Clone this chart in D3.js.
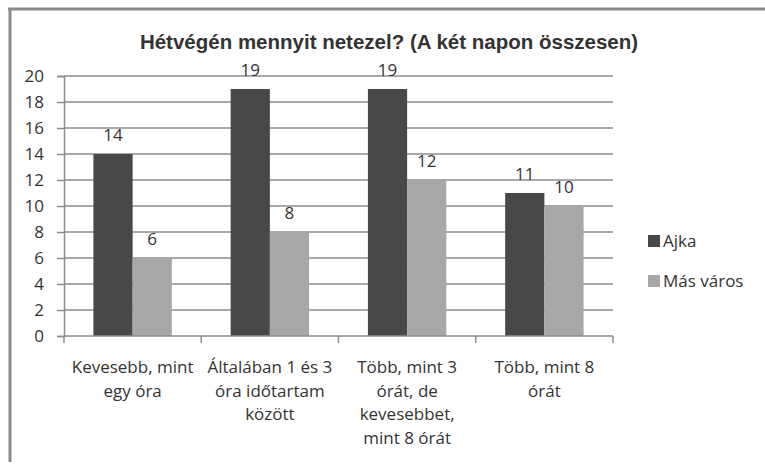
<!DOCTYPE html>
<html>
<head>
<meta charset="utf-8">
<script src="https://cdn.jsdelivr.net/npm/d3@7"></script>
<style>
  body { margin: 0; background: #fff; }
  svg { display: block; }
</style>
</head>
<body>
<svg class="chart"></svg>
<script>
// Chart data
const categories = ['Kevesebb, mint egy óra', 'Általában 1 és 3 óra időtartam között',
  'Több, mint 3 órát, de kevesebbet, mint 8 órát', 'Több, mint 8 órát'];
const categoryLines = [
  ['Kevesebb, mint', 'egy óra'],
  ['Általában 1 és 3', 'óra időtartam', 'között'],
  ['Több, mint 3', 'órát, de', 'kevesebbet,', 'mint 8 órát'],
  ['Több, mint 8', 'órát']
];
const seriesNames = ['Ajka', 'Más város'];
const ajka = [14, 19, 19, 11];
const masVaros = [6, 8, 12, 10];
const yTicks = [0, 2, 4, 6, 8, 10, 12, 14, 16, 18, 20];
const colors = ['#48484a', '#a7a7a9'];

const svgWidth = 765;
const svgHeight = 465;
const margin = { top: 76, left: 64, right: 152, bottom: 129 };
const chartWidth = svgWidth - margin.left - margin.right;
const chartHeight = svgHeight - margin.top - margin.bottom;
const textColor = '#333';
const gridColor = '#8c8c8c';
const labelFont = '"Open Sans", Lato, sans-serif';
const labelSize = '17px';

const svg = d3.select('.chart')
  .attr('width', svgWidth)
  .attr('height', svgHeight);

// Frame (top and left edges of the scanned chart box)
svg.append('line')
  .attr('x1', 8).attr('x2', svgWidth)
  .attr('y1', 9).attr('y2', 9)
  .attr('stroke', '#8a8a8a').attr('stroke-width', 3);
svg.append('line')
  .attr('x1', 10).attr('x2', 10)
  .attr('y1', 8).attr('y2', 462)
  .attr('stroke', '#8a8a8a').attr('stroke-width', 3);

// Title
svg.append('text')
  .attr('x', 389)
  .attr('y', 49)
  .attr('text-anchor', 'middle')
  .attr('font-family', '"Liberation Sans", Arial, sans-serif')
  .attr('font-weight', 'bold')
  .attr('font-size', '20.5px')
  .attr('fill', textColor)
  .text('Hétvégén mennyit netezel? (A két napon összesen)');

const chart = svg.append('g')
  .attr('transform', 'translate(' + margin.left + ',' + margin.top + ')');

// Scales
const xScale = d3.scaleBand()
  .domain(categories)
  .range([0, chartWidth])
  .padding(0);

const xSub = d3.scaleBand()
  .domain(seriesNames)
  .range([0, xScale.bandwidth()])
  .paddingInner(0)
  .paddingOuter(0.75);

const yScale = d3.scaleLinear()
  .domain([0, 20])
  .range([chartHeight, 0]);

// Gridlines + y axis
const yAxisGroup = chart.append('g')
  .call(d3.axisLeft(yScale).tickValues(yTicks).tickSize(7).tickPadding(13));
yAxisGroup.select('.domain').attr('stroke', gridColor).attr('stroke-width', 1.5);
yAxisGroup.selectAll('line').attr('stroke', gridColor).attr('stroke-width', 1.5);
yAxisGroup.selectAll('text')
  .attr('font-family', labelFont)
  .attr('font-size', labelSize)
  .attr('fill', textColor);

chart.append('g')
  .selectAll('line')
  .data(yTicks.filter(d => d > 0))
  .enter()
  .append('line')
  .attr('x1', 0)
  .attr('x2', chartWidth)
  .attr('y1', d => yScale(d))
  .attr('y2', d => yScale(d))
  .attr('stroke', gridColor)
  .attr('stroke-width', 1.5);

// Bars
const rows = categories.map((c, i) => ({ cat: c, values: [ajka[i], masVaros[i]] }));

const groups = chart.selectAll('g.cat')
  .data(rows)
  .enter()
  .append('g')
  .attr('class', 'cat')
  .attr('transform', d => 'translate(' + xScale(d.cat) + ',0)');

groups.selectAll('rect')
  .data(d => d.values.map((v, j) => ({ name: seriesNames[j], value: v, idx: j })))
  .enter()
  .append('rect')
  .attr('x', d => xSub(d.name))
  .attr('y', d => yScale(d.value))
  .attr('width', xSub.bandwidth())
  .attr('height', d => chartHeight - yScale(d.value))
  .attr('fill', d => colors[d.idx]);

groups.selectAll('text.val')
  .data(d => d.values.map((v, j) => ({ name: seriesNames[j], value: v })))
  .enter()
  .append('text')
  .attr('class', 'val')
  .attr('x', d => xSub(d.name) + xSub.bandwidth() / 2)
  .attr('y', d => yScale(d.value) - 13)
  .attr('text-anchor', 'middle')
  .attr('font-family', labelFont)
  .attr('font-size', labelSize)
  .attr('fill', textColor)
  .text(d => d.value);

// X axis: ticks at category boundaries
const boundaries = categories.map(c => xScale(c)).concat([chartWidth]);
const xAxisGroup = chart.append('g')
  .attr('transform', 'translate(0,' + chartHeight + ')');
xAxisGroup.append('line')
  .attr('x1', 0).attr('x2', chartWidth)
  .attr('stroke', gridColor).attr('stroke-width', 1.5);
xAxisGroup.selectAll('line.tick')
  .data(boundaries)
  .enter()
  .append('line')
  .attr('class', 'tick')
  .attr('x1', d => d).attr('x2', d => d)
  .attr('y1', 0).attr('y2', 7)
  .attr('stroke', gridColor).attr('stroke-width', 1.5);

// Category labels (wrapped)
const catLabels = xAxisGroup.selectAll('text.cat')
  .data(categories)
  .enter()
  .append('text')
  .attr('class', 'cat')
  .attr('text-anchor', 'middle')
  .attr('font-family', labelFont)
  .attr('font-size', labelSize)
  .attr('fill', textColor)
  .attr('transform', d => 'translate(' + (xScale(d) + xScale.bandwidth() / 2) + ',37)');

catLabels.selectAll('tspan')
  .data((d, i) => categoryLines[i])
  .enter()
  .append('tspan')
  .attr('x', 0)
  .attr('y', (d, i) => i * 23.5)
  .text(d => d);

// Legend
const legend = svg.append('g')
  .attr('transform', 'translate(648,235)');
seriesNames.forEach((name, i) => {
  const item = legend.append('g').attr('transform', 'translate(0,' + (i * 40) + ')');
  item.append('rect')
    .attr('width', 12)
    .attr('height', 12)
    .attr('fill', colors[i]);
  item.append('text')
    .attr('x', 15)
    .attr('y', 12)
    .attr('font-family', labelFont)
    .attr('font-size', labelSize)
    .attr('fill', textColor)
    .text(name);
});
</script>
</body>
</html>
